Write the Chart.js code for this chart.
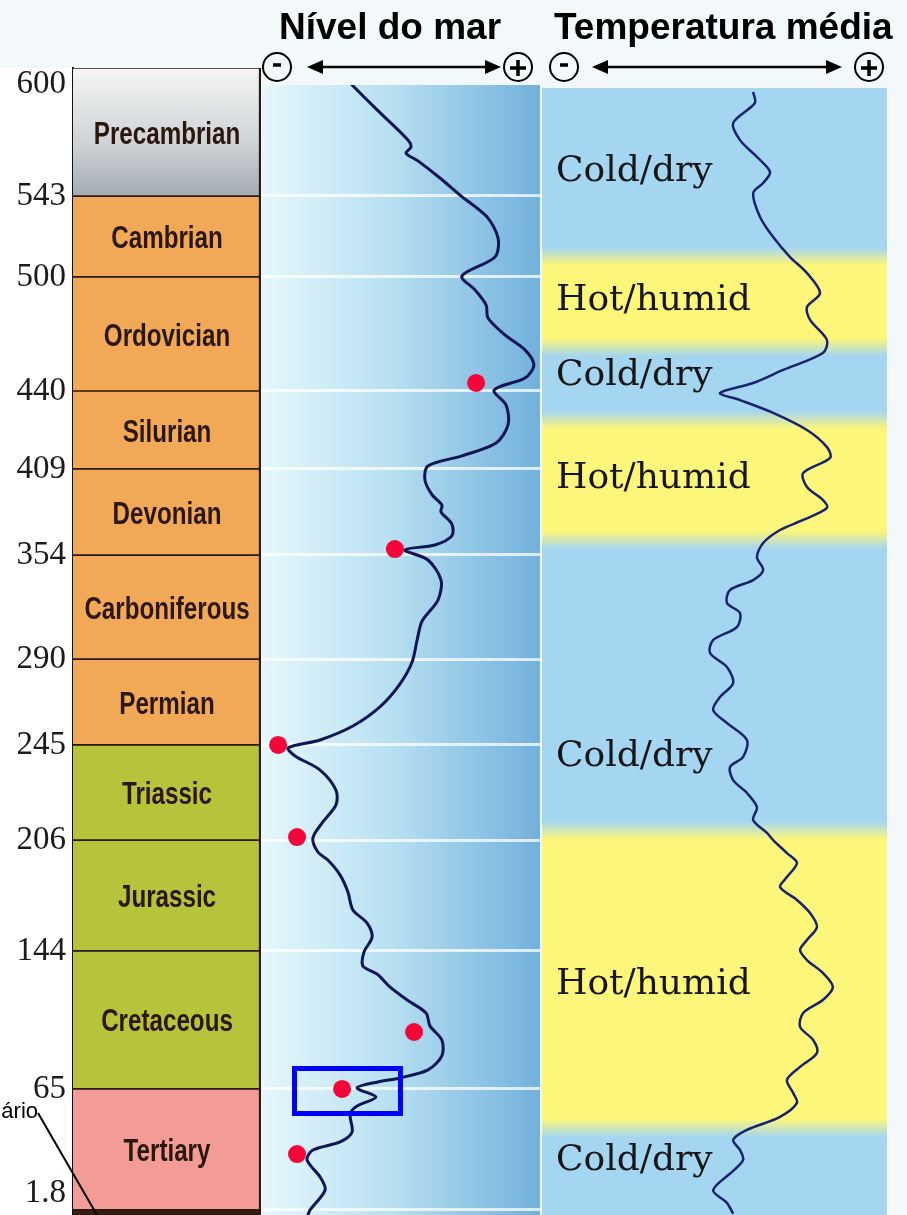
<!DOCTYPE html>
<html>
<head>
<meta charset="utf-8">
<script src="https://cdn.jsdelivr.net/npm/chart.js@4.4.1/dist/chart.umd.min.js"></script>
<style>
  html, body { margin: 0; padding: 0; }
  body { width: 907px; height: 1215px; overflow: hidden; position: relative; background: #f3f8fa; }
  canvas { position: absolute; top: 0; }
  #periodChart { left: 0; }
  #seaChart { left: 262px; }
  #tempChart { left: 542px; }
  .head { position: absolute; top: 8px; font: bold 37px/37px 'Liberation Sans', Arial, sans-serif; color: #000; white-space: nowrap; }
</style>
</head>
<body>
<canvas id="periodChart" width="262" height="1215"></canvas>
<canvas id="seaChart" width="280" height="1215"></canvas>
<canvas id="tempChart" width="365" height="1215"></canvas>
<div class="head" style="left:279px">Nível do mar</div>
<div class="head" style="left:554px">Temperatura média</div>
<script>
// periods, ages in millions of years
const periods = ['Precambrian', 'Cambrian', 'Ordovician', 'Silurian', 'Devonian', 'Carboniferous',
                 'Permian', 'Triassic', 'Jurassic', 'Cretaceous', 'Tertiary', 'Quaternary'];
const periodStart = [600, 543, 500, 440, 409, 354, 290, 245, 206, 144, 65, 1.8];
const periodEnd = [543, 500, 440, 409, 354, 290, 245, 206, 144, 65, 1.8, 0];
const periodColors = ['#c9ced2', '#f1a958', '#f1a958', '#f1a958', '#f1a958', '#f1a958',
                      '#f1a958', '#b6c43b', '#b6c43b', '#b6c43b', '#f39c97', '#3a1c14'];
const ageTicks = [600, 543, 500, 440, 409, 354, 290, 245, 206, 144, 65, 1.8];

// the column is not drawn to scale: how far down (0..1) each boundary sits
const timeStretch = [[600, 0], [543, 0.1116], [500, 0.1822], [440, 0.2816], [409, 0.3496],
                     [354, 0.4246], [290, 0.5153], [245, 0.5902], [206, 0.6731], [144, 0.7698],
                     [65, 0.8901], [1.8, 0.9956], [0, 1]];

// sea level, 0 = low (-) .. 100 = high (+)
const seaAge = [592.4, 581.3, 567.9, 564.8, 562.1, 558.6, 551.0, 543.4, 531.9, 520.7, 510.6, 500.5,
  493.2, 485.3, 478.4, 469.5, 461.6, 453.7, 446.8, 440.5, 434.4, 426.5, 419.3, 414.2, 410.2,
  402.0, 392.4, 386.0, 381.5, 373.8, 366.2, 360.4, 357.2, 350.9, 338.6, 326.3, 313.4, 301.7,
  288.4, 276.9, 264.9, 254.9, 247.6, 243.8, 240.5, 234.7, 226.5, 220.4, 213.4, 206.8, 199.3,
  194.8, 186.4, 177.0, 166.9, 159.6, 151.8, 143.4, 135.4, 130.8, 123.4, 115.9, 108.5, 101.1,
  93.0, 83.9, 75.9, 71.3, 69.0, 65.6, 60.8, 56.1, 51.9, 42.5, 37.3, 33.1, 27.9, 19.0, 12.2, 1.8, 0];
const seaLevel = [32.4, 41.4, 52.5, 53.6, 51.8, 56.1, 64.0, 71.2, 80.9, 84.9, 83.8, 71.9,
  76.6, 80.6, 81.3, 87.4, 94.6, 97.8, 94.6, 83.5, 87.8, 88.5, 84.2, 71.9, 59.7,
  58.6, 61.2, 64.7, 64.4, 68.3, 68.3, 62.2, 51.4, 59.7, 64.4, 63.3, 57.6, 55.8,
  54.0, 49.6, 42.4, 32.7, 20.9, 9.4, 11.9, 20.9, 26.6, 26.6, 21.9, 18.3, 20.1,
  23.7, 28.1, 30.9, 32.7, 37.8, 39.6, 36.7, 36.3, 41.4, 46.0, 52.2, 59.0, 60.4,
  64.7, 64.7, 59.7, 49.6, 41.7, 34.2, 41.0, 34.2, 31.7, 32.4, 28.1, 18.3, 16.2, 20.9, 22.7, 17.3, 16.5];

// red marks on the sea level curve
const markAge = [444.2, 357.8, 245.0, 207.2, 97.6, 65.0, 31.0];
const markLevel = [77.0, 47.8, 5.8, 12.6, 54.7, 28.8, 12.6];

// highlighted box around the end-Cretaceous drop
const boxAge = [76.7, 52.2];
const boxLevel = [11.7, 49.8];

// mean temperature, 0 = cold (-) .. 100 = warm (+)
const tempAge = [589.3, 584.4, 575.5, 567.9, 560.4, 553.7, 548.8, 544.3, 531.9, 521.2, 510.6, 502.1,
  491.6, 484.2, 477.4, 466.8, 460.0, 451.1, 444.2, 439.2, 436.4, 431.3, 424.5, 417.7, 413.4,
  406.4, 397.5, 389.2, 384.1, 376.4, 370.0, 361.7, 352.8, 344.8, 338.6, 332.5, 324.5, 318.3,
  309.7, 301.7, 293.7, 285.8, 277.4, 270.1, 263.3, 256.5, 247.6, 240.1, 236.0, 230.6, 225.3,
  219.5, 214.2, 208.9, 206.0, 198.7, 193.2, 185.3, 179.7, 172.5, 165.2, 157.4, 150.1, 144.5,
  138.8, 131.4, 123.4, 115.9, 108.5, 100.5, 93.0, 85.6, 77.6, 70.1, 62.9, 57.7, 50.4, 43.6,
  38.4, 33.1, 27.9, 22.2, 12.2, 5.5, 0.5];
const tempLevel = [61.2, 61.7, 55.4, 57.4, 62.3, 66.1, 64.1, 61.2, 63.2, 67.0, 71.9, 76.8,
  80.6, 76.8, 77.7, 82.6, 81.4, 69.9, 61.2, 51.6, 57.4, 67.0, 76.8, 82.6, 83.5,
  75.7, 76.8, 81.4, 82.6, 75.7, 69.0, 64.1, 62.3, 64.1, 61.2, 54.5, 53.6, 57.4,
  56.5, 49.6, 48.7, 53.6, 55.4, 51.6, 49.6, 53.6, 59.4, 58.3, 54.5, 55.4, 59.4,
  62.3, 61.2, 65.2, 67.0, 71.0, 73.9, 71.0, 69.0, 73.9, 77.7, 79.7, 76.8, 74.8,
  76.8, 81.4, 84.3, 81.4, 75.7, 74.8, 78.6, 79.7, 74.8, 71.0, 72.8, 73.9, 69.0, 59.4,
  55.4, 57.4, 58.3, 55.4, 49.6, 53.6, 55.4];

// hot/humid intervals (everything else cold/dry)
const hotFrom = [511, 428.5, 210];
const hotTo = [463, 363.6, 44.6];
const climateText = ['Cold/dry', 'Hot/humid', 'Cold/dry', 'Hot/humid', 'Cold/dry', 'Hot/humid', 'Cold/dry'];
const climateAge = [553.7, 487.4, 447.9, 402.6, 240.1, 124.5, 27.4];

// vertical time axis that follows the uneven spacing of the column
class GeoTimeScale extends Chart.LinearScale {
  static id = 'geotime';
  static defaults = {};
  depth(v) {
    const k = timeStretch;
    let i = 0;
    while (i < k.length - 2 && v < k[i + 1][0]) i++;
    const [a0, f0] = k[i], [a1, f1] = k[i + 1];
    return f0 + (a0 - v) / (a0 - a1) * (f1 - f0);
  }
  getPixelForValue(v) {
    if (v === null || v === undefined || isNaN(v)) return NaN;
    const t = this.depth(this.max), b = this.depth(this.min);
    return this.top + (this.depth(v) - t) / (b - t) * (this.bottom - this.top);
  }
  getValueForPixel(p) {
    const t = this.depth(this.max), b = this.depth(this.min);
    const d = t + (p - this.top) / (this.bottom - this.top) * (b - t);
    const k = timeStretch;
    let i = 0;
    while (i < k.length - 2 && d > k[i + 1][1]) i++;
    const [a0, f0] = k[i], [a1, f1] = k[i + 1];
    return a0 - (d - f0) / (f1 - f0) * (a0 - a1);
  }
}
Chart.register(GeoTimeScale);

function timeAxis(max, extra) {
  return Object.assign({
    type: 'geotime',
    min: 0,
    max: max,
    bounds: 'data',
    afterBuildTicks: (s) => { s.ticks = ageTicks.filter(v => v <= max).map(v => ({ value: v })); }
  }, extra);
}

// circled -/+ with a double arrow above a panel
function scaleArrows(minusX, plusX, lineFrom, lineTo) {
  return {
    id: 'scaleArrows',
    afterDraw(chart) {
      const { ctx, chartArea: a } = chart;
      const y = 67;
      const xm = a.left + minusX, xp = a.right - plusX;
      ctx.save();
      ctx.strokeStyle = '#000';
      ctx.fillStyle = '#000';
      ctx.lineWidth = 2;
      [xm, xp].forEach(x => {
        ctx.beginPath();
        ctx.arc(x, y, 14, 0, Math.PI * 2);
        ctx.stroke();
      });
      ctx.lineWidth = 3.5;
      ctx.beginPath();
      ctx.moveTo(xm - 4, y - 2); ctx.lineTo(xm + 4, y - 2);
      ctx.moveTo(xp - 8, y + 1); ctx.lineTo(xp + 8, y + 1);
      ctx.moveTo(xp, y - 7); ctx.lineTo(xp, y + 9);
      ctx.stroke();
      const x1 = xm + lineFrom, x2 = xp - lineTo;
      ctx.lineWidth = 2.5;
      ctx.beginPath();
      ctx.moveTo(x1 + 8, y); ctx.lineTo(x2 - 8, y);
      ctx.stroke();
      ctx.beginPath();
      ctx.moveTo(x1, y); ctx.lineTo(x1 + 16, y - 7); ctx.lineTo(x1 + 16, y + 7); ctx.closePath();
      ctx.moveTo(x2, y); ctx.lineTo(x2 - 16, y - 7); ctx.lineTo(x2 - 16, y + 7); ctx.closePath();
      ctx.fill();
      ctx.restore();
    }
  };
}

// ---------- period column ----------
const periodLabels = {
  id: 'periodLabels',
  beforeDraw(chart) {
    const { ctx, chartArea: a } = chart;
    ctx.save();
    ctx.fillStyle = '#ffffff';
    ctx.fillRect(0, a.top, a.left, a.bottom - a.top);
    ctx.restore();
  },
  afterDatasetsDraw(chart) {
    const { ctx, chartArea: a } = chart;
    const y = chart.scales.y;
    ctx.save();
    ctx.font = "bold 31px 'Liberation Sans', Arial, sans-serif";
    ctx.fillStyle = '#2b170c';
    ctx.textAlign = 'center';
    ctx.textBaseline = 'middle';
    chart.data.datasets.forEach((ds, i) => {
      if (ds.label === 'Quaternary') return;
      const bar = chart.getDatasetMeta(i).data[0];
      // condensed face: squeeze horizontally
      ctx.save();
      ctx.translate(bar.x, (bar.y + bar.base) / 2 + 3);
      ctx.scale(0.78, 1);
      ctx.fillText(ds.label, 0, 0);
      ctx.restore();
    });
    // pointer to the thin Quaternary band
    const q = y.getPixelForValue(periodStart[10]);
    ctx.font = "22px 'Liberation Sans', Arial, sans-serif";
    ctx.fillStyle = '#000';
    ctx.textAlign = 'right';
    ctx.textBaseline = 'alphabetic';
    ctx.fillText('Quaternário', 38, q + 29);
    ctx.strokeStyle = '#000';
    ctx.lineWidth = 2;
    ctx.beginPath();
    ctx.moveTo(38, q + 24);
    ctx.lineTo(a.left + 24, y.getPixelForValue(0));
    ctx.stroke();
    ctx.restore();
  }
};

new Chart(document.getElementById('periodChart'), {
  type: 'bar',
  data: {
    labels: [''],
    datasets: periods.map((p, i) => ({
      label: p,
      data: [[periodEnd[i], periodStart[i]]],
      backgroundColor: i === 0 ? (ctx) => {
        const chart = ctx.chart;
        if (!chart.chartArea) return periodColors[0];
        const ys = chart.scales.y;
        const g = chart.ctx.createLinearGradient(0, ys.getPixelForValue(periodStart[0]), 0, ys.getPixelForValue(periodEnd[0]));
        g.addColorStop(0, '#f5f6f6');
        g.addColorStop(0.6, '#cdd2d5');
        g.addColorStop(1, '#a2abb2');
        return g;
      } : periodColors[i],
      borderColor: '#2a1a12',
      borderWidth: { top: 1.2, bottom: 1.2, left: 0, right: 2.5 },
      borderSkipped: false,
      grouped: false,
      barPercentage: 1,
      categoryPercentage: 1
    }))
  },
  options: {
    responsive: false,
    animation: false,
    events: [],
    layout: { autoPadding: false, padding: { top: 68, right: 1 } },
    plugins: { legend: { display: false }, tooltip: { enabled: false } },
    scales: {
      x: { display: false },
      y: timeAxis(600, {
        position: 'left',
        grid: { display: false, drawTicks: false },
        border: { display: true, color: '#111', width: 2 },
        ticks: {
          autoSkip: false,
          padding: 7,
          color: '#1b1b1b',
          font: { family: "'Liberation Serif', 'Times New Roman', serif", size: 33, lineHeight: 1 },
          callback: (v) => v === ageTicks[0] ? ['', String(v)]
            : v === ageTicks[ageTicks.length - 1] ? [String(v), ''] : String(v)
        },
        afterFit: (s) => { s.width = 73; s.paddingTop = 0; s.paddingBottom = 0; }
      })
    }
  },
  plugins: [periodLabels]
});

// ---------- sea level ----------
const seaBackground = {
  id: 'seaBackground',
  beforeDraw(chart) {
    const { ctx, chartArea: a } = chart;
    const g = ctx.createLinearGradient(a.left, 0, a.right, 0);
    g.addColorStop(0, '#e6f7fc');
    g.addColorStop(0.45, '#b9e1f2');
    g.addColorStop(1, '#72b1dc');
    ctx.save();
    ctx.fillStyle = g;
    ctx.fillRect(a.left, a.top, a.right - a.left, a.bottom - a.top);
    ctx.restore();
  }
};

new Chart(document.getElementById('seaChart'), {
  type: 'scatter',
  data: {
    datasets: [
      {
        label: 'destaque',
        data: [[0, 0], [1, 0], [1, 1], [0, 1], [0, 0]].map(([i, j]) => ({ x: boxLevel[i], y: boxAge[j] })),
        showLine: true,
        borderColor: '#0000ff',
        borderWidth: 5,
        borderJoinStyle: 'miter',
        borderCapStyle: 'square',
        tension: 0,
        pointRadius: 0
      },
      {
        label: 'marcas',
        data: markAge.map((a, i) => ({ x: markLevel[i], y: a })),
        pointRadius: 9,
        pointBackgroundColor: '#f4063b',
        pointBorderWidth: 0
      },
      {
        label: 'Nível do mar',
        data: seaAge.map((a, i) => ({ x: seaLevel[i], y: a })),
        showLine: true,
        borderColor: '#0e1656',
        borderWidth: 3,
        borderJoinStyle: 'round',
        borderCapStyle: 'round',
        tension: 0.3,
        pointRadius: 0
      }
    ]
  },
  options: {
    responsive: false,
    animation: false,
    events: [],
    layout: { autoPadding: false, padding: { top: 85, right: 2 } },
    plugins: { legend: { display: false }, tooltip: { enabled: false } },
    scales: {
      x: { type: 'linear', min: 0, max: 100, display: false },
      y: timeAxis(592.4, {
        grid: { color: 'rgba(255,255,255,0.75)', lineWidth: 3, drawTicks: false },
        border: { display: false },
        ticks: { display: false },
        afterFit: (s) => { s.width = 0; s.paddingTop = 0; s.paddingBottom = 0; }
      })
    }
  },
  plugins: [seaBackground, scaleArrows(15, 22, 30, 17)]
});

// ---------- temperature ----------
const climateBands = {
  id: 'climateBands',
  beforeDraw(chart) {
    const { ctx, chartArea: a } = chart;
    const ys = chart.scales.y;
    ctx.save();
    ctx.fillStyle = '#a5d6f1';
    ctx.fillRect(a.left, a.top, a.right - a.left, a.bottom - a.top);
    hotFrom.forEach((from, i) => {
      const top = ys.getPixelForValue(from), bot = Math.min(ys.getPixelForValue(hotTo[i]), a.bottom + 20);
      const soft = 9;
      const h = bot - top + 2 * soft;
      const e = 2 * soft / h;
      const g = ctx.createLinearGradient(0, top - soft, 0, bot + soft);
      g.addColorStop(0, 'rgba(252,246,122,0)');
      g.addColorStop(e, 'rgba(252,246,122,1)');
      g.addColorStop(1 - e, 'rgba(252,246,122,1)');
      g.addColorStop(1, 'rgba(252,246,122,0)');
      ctx.fillStyle = g;
      ctx.fillRect(a.left, top - soft, a.right - a.left, h);
    });
    ctx.restore();
  },
  beforeDatasetsDraw(chart) {
    const { ctx, chartArea: a } = chart;
    const ys = chart.scales.y;
    ctx.save();
    ctx.font = "36px 'DejaVu Serif', 'Liberation Serif', serif";
    ctx.fillStyle = '#161616';
    ctx.textAlign = 'left';
    ctx.textBaseline = 'middle';
    climateText.forEach((t, i) => ctx.fillText(t, a.left + 14, ys.getPixelForValue(climateAge[i])));
    ctx.restore();
  }
};

new Chart(document.getElementById('tempChart'), {
  type: 'scatter',
  data: {
    datasets: [{
      label: 'Temperatura média',
      data: tempAge.map((a, i) => ({ x: tempLevel[i], y: a })),
      showLine: true,
      borderColor: '#18226e',
      borderWidth: 2.5,
      borderJoinStyle: 'round',
      tension: 0.3,
      pointRadius: 0
    }]
  },
  options: {
    responsive: false,
    animation: false,
    events: [],
    layout: { autoPadding: false, padding: { top: 88, right: 20 } },
    plugins: { legend: { display: false }, tooltip: { enabled: false } },
    scales: {
      x: { type: 'linear', min: 0, max: 100, display: false },
      y: timeAxis(591.1, { display: false })
    }
  },
  plugins: [climateBands, scaleArrows(22, 18, 28, 27)]
});
</script>
</body>
</html>
